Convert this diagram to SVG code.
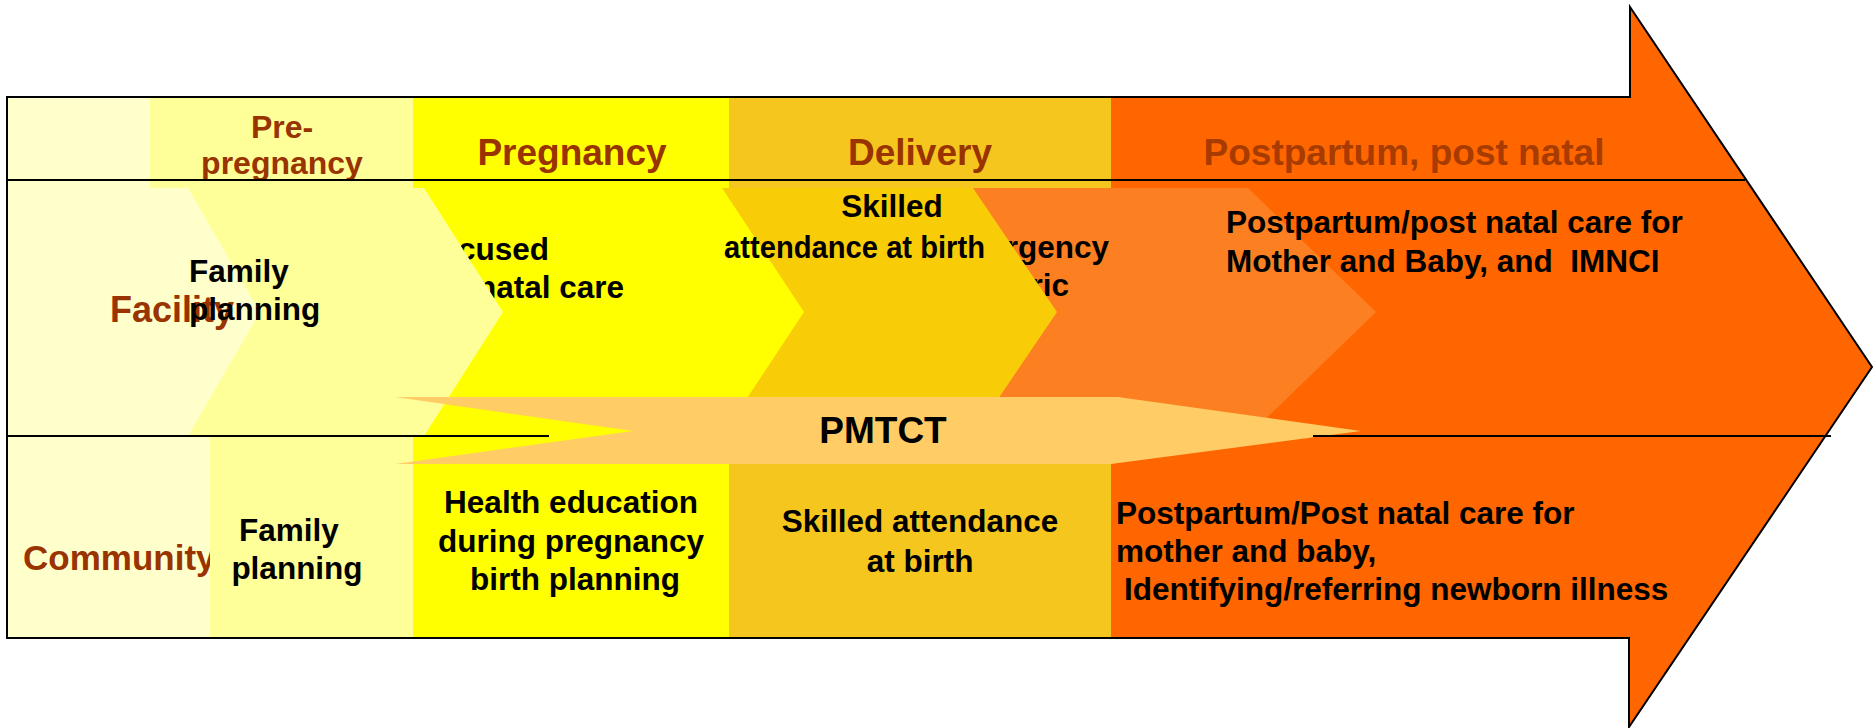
<svg xmlns="http://www.w3.org/2000/svg" width="1874" height="728" viewBox="0 0 1874 728">
  <style>
    .t { font-family: "Liberation Sans", Arial, Helvetica, sans-serif; font-weight: bold; }
    .body { font-size: 31.5px; fill: #000; }
    .hdr { font-size: 37px; fill: #993300; }
    .hdr-sm { font-size: 32px; fill: #993300; }
    .row { font-size: 35px; fill: #993300; }
    .mid { text-anchor: middle; }
    .end { text-anchor: end; }
    .c-cream { fill: #FFFFCC; }
    .c-pale { fill: #FFFF99; }
    .c-yellow { fill: #FFFF00; }
    .c-gold { fill: #F5C61E; }
    .c-gold2 { fill: #F9CC08; }
    .c-lorange { fill: #FC7F22; }
    .c-pmtct { fill: #FFCC66; }
    .rule { stroke: #000; stroke-width: 2; fill: none; }
  </style>

  <!-- big timeline arrow (fill only; outline drawn last) -->
  <g id="timeline-arrow">
    <path d="M7,97 H1630 V7 L1872,367 L1629,727 V638 H7 Z" fill="#FF6600"/>
  </g>

  <!-- phase header cells -->
  <g id="hdr-blank"><rect class="c-cream" x="7" y="97" width="143" height="91"/></g>
  <g id="hdr-prepregnancy">
    <rect class="c-pale" x="150" y="97" width="263" height="91"/>
    <text class="t hdr-sm mid" x="282" y="138">Pre-</text>
    <text class="t hdr-sm mid" x="282" y="174">pregnancy</text>
  </g>
  <g id="hdr-pregnancy">
    <rect class="c-yellow" x="413" y="97" width="316" height="91"/>
    <text class="t hdr mid" x="572" y="165">Pregnancy</text>
  </g>
  <g id="hdr-delivery">
    <rect class="c-gold" x="729" y="97" width="382" height="91"/>
    <text class="t hdr mid" x="920" y="165">Delivery</text>
  </g>
  <g id="hdr-postpartum">
    <text class="t hdr mid" x="1404" y="165" fill="#A83C00" style="fill:#A83C00">Postpartum, post natal</text>
  </g>

  <!-- community row cells -->
  <g id="com-label">
    <rect class="c-cream" x="7" y="436" width="203" height="202"/>
    <text class="t row" x="23" y="570">Community</text>
  </g>
  <g id="com-family-planning">
    <rect class="c-pale" x="210" y="436" width="203" height="202"/>
    <text class="t body mid" x="289" y="541">Family</text>
    <text class="t body mid" x="297" y="579">planning</text>
  </g>
  <g id="com-health-education">
    <rect class="c-yellow" x="413" y="436" width="316" height="202"/>
    <text class="t body mid" x="571" y="513">Health education</text>
    <text class="t body mid" x="571" y="552">during pregnancy</text>
    <text class="t body mid" x="575" y="590">birth planning</text>
  </g>
  <g id="com-skilled-attendance">
    <rect class="c-gold" x="729" y="436" width="382" height="202"/>
    <text class="t body mid" x="920" y="532">Skilled attendance</text>
    <text class="t body mid" x="920" y="572">at birth</text>
  </g>
  <g id="com-postpartum">
    <text class="t body" x="1116" y="524">Postpartum/Post natal care for</text>
    <text class="t body" x="1116" y="562">mother and baby,</text>
    <text class="t body" x="1124" y="600">Identifying/referring newborn illness</text>
  </g>

  <!-- facility row: chevrons, drawn right to left so each tip overlaps the next -->
  <g id="fac-emergency">
    <polygon class="c-lorange" points="973,188 1248,188 1376,312 1248,436 973,436"/>
    <text class="t body end" x="1109" y="258">Emergency</text>
    <text class="t body end" x="1069" y="296">obstetric</text>
  </g>
  <g id="fac-skilled-attendance">
    <polygon class="c-gold2" points="722,188 973,188 1057,312 973,436 722,436"/>
  </g>
  <g id="fac-antenatal">
    <polygon class="c-yellow" points="424,188 722,188 804,312 722,436 424,436"/>
    <text class="t body end" x="549" y="260">Focused</text>
    <text class="t body end" x="624" y="298">antenatal care</text>
  </g>
  <g id="fac-family-planning">
    <polygon class="c-pale" points="188,188 424,188 503,312 424,436 188,436"/>
  </g>
  <g id="fac-label">
    <polygon class="c-cream" points="7,188 188,188 260,312 188,436 7,436"/>
    <text class="t row" x="110" y="322" style="font-size:36px">Facility</text>
  </g>
  <g id="fac-skilled-text">
    <text class="t body mid" x="892" y="217">Skilled</text>
    <text class="t body" x="724" y="258" textLength="261" lengthAdjust="spacingAndGlyphs">attendance at birth</text>
  </g>
  <g id="fac-family-planning-text">
    <text class="t body" x="189" y="282">Family</text>
    <text class="t body" x="189" y="320">planning</text>
  </g>
  <g id="fac-postpartum">
    <text class="t body" x="1226" y="233">Postpartum/post natal care for</text>
    <text class="t body" x="1226" y="272" xml:space="preserve">Mother and Baby, and  IMNCI</text>
  </g>

  <!-- PMTCT band spanning pregnancy to postpartum -->
  <g id="pmtct">
    <polygon class="c-pmtct" points="395,397 1118,397 1361,431 1111,464 395,464 633,431"/>
    <text class="t mid" x="883" y="443" style="font-size:37px;fill:#000">PMTCT</text>
  </g>

  <!-- grid rules and arrow outline -->
  <g id="grid-lines">
    <path class="rule" d="M7,180 H1745"/>
    <path class="rule" d="M7,436 H549"/>
    <path class="rule" d="M1313,436 H1831"/>
    <path class="rule" d="M7,97 H1630 V7 L1872,367 L1629,727 V638 H7 Z" stroke-linejoin="miter"/>
  </g>
</svg>
